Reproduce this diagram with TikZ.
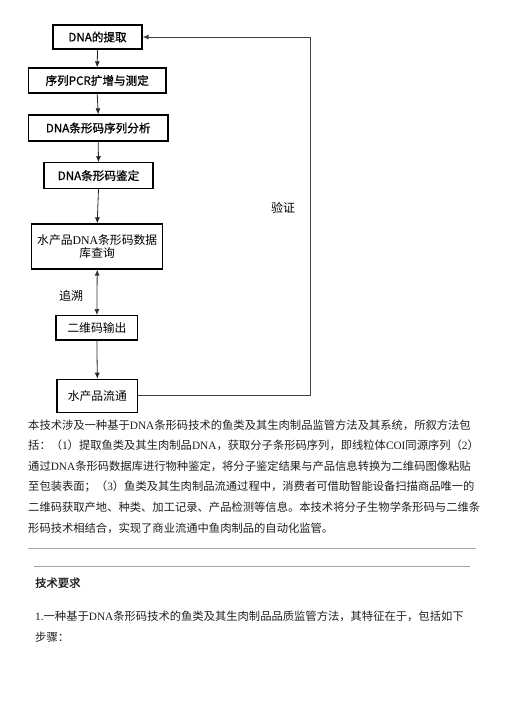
\documentclass[tikz,border=0pt]{standalone}
\usepackage{fontspec}
\setmainfont{Liberation Serif}
\newfontfamily\cjk{Noto Sans CJK SC}
\newfontfamily\cjkb[FakeBold=1.0]{Noto Sans CJK SC}
\newfontfamily\lat{Liberation Serif}
\newcommand\la[1]{{\lat #1}}
\usetikzlibrary{arrows.meta}
\begin{document}
\begin{tikzpicture}[x=1pt,y=-1pt,
  box/.style={draw=black,line width=1.2pt,inner sep=0,align=center,font=\cjkb\fontsize{11.6}{14}\selectfont},
  boxn/.style={box,font=\cjk\fontsize{11.8}{13.5}\selectfont},
  arr/.style={draw=black!85,line width=0.8pt,-{Latex[length=6pt,width=5pt]}},
  darr/.style={draw=black!80,line width=0.8pt,{Latex[length=6pt,width=5pt]}-{Latex[length=6pt,width=5pt]}},
  fb/.style={draw=black!75,line width=0.8pt,-{Latex[length=6pt,width=5pt]}},
  lbl/.style={inner sep=0,font=\cjk\fontsize{12}{14}\selectfont},
  para/.style={anchor=west,inner sep=0,font=\cjk\fontsize{11.3}{13}\selectfont,text=black!88},
  sep/.style={draw=black!35,line width=0.8pt}]
\useasboundingbox (0,0) rectangle (504,713);
% flow boxes
\node[box,minimum width=89pt,minimum height=24pt] (b1) at (97.5,37) {DNA的提取};
\node[box,minimum width=137.7pt,minimum height=25pt] (b2) at (97.2,80.5) {序列PCR扩增与测定};
\node[box,minimum width=139.7pt,minimum height=26pt] (b3) at (98.2,128) {DNA条形码序列分析};
\node[box,minimum width=109pt,minimum height=25.5pt] (b4) at (98.5,175.6) {DNA条形码鉴定};
\node[boxn,minimum width=131pt,minimum height=45pt] (b5) at (97.2,246.5) {水产品\la{DNA}条形码数据\\库查询};
\node[boxn,minimum width=81.7pt,minimum height=24.3pt] (b6) at (96.9,327.9) {二维码输出};
\node[boxn,minimum width=80.5pt,minimum height=33pt] (b7) at (97.3,395.8) {水产品流通};
% connectors
\draw[arr] (b1.south) -- (b2.north);
\draw[arr] (b2.south) -- (b3.north);
\draw[arr] (b3.south) -- (b4.north);
\draw[arr] (b4.south) -- (b5.north);
\draw[darr] (b5.south) -- (b6.north);
\draw[arr] (b6.south) -- (b7.north);
\coordinate (fbx) at (310.7,200);
\draw[fb] (b7.east) -- (b7.east -| fbx) |- (b1.east);
\node[lbl] (v) at (283,208) {验证};
\node[lbl] (t) at (71,296) {追溯};
% paragraph
\node[para] (p1) at (28,425) {本技术涉及一种基于\la{DNA}条形码技术的鱼类及其生肉制品监管方法及其系统，所叙方法包};
\node[para] (p2) at (28,445.6) {括：（\la{1}）提取鱼类及其生肉制品\la{DNA}，获取分子条形码序列，即线粒体\la{COI}同源序列（\la{2}）};
\node[para] (p3) at (28,466.2) {通过\la{DNA}条形码数据库进行物种鉴定，将分子鉴定结果与产品信息转换为二维码图像粘贴};
\node[para] (p4) at (28,486.8) {至包装表面；（\la{3}）鱼类及其生肉制品流通过程中，消费者可借助智能设备扫描商品唯一的};
\node[para] (p5) at (28,507.4) {二维码获取产地、种类、加工记录、产品检测等信息。本技术将分子生物学条形码与二维条};
\node[para] (p6) at (28,528) {形码技术相结合，实现了商业流通中鱼肉制品的自动化监管。};
\draw[sep] (28,548.3) -- (476,548.3);
\draw[sep] (34,566.7) -- (470,566.7);
\node[para,font=\cjkb\fontsize{11.3}{13}\selectfont] (h) at (35,582.7) {技术要求};
\node[para] (c1) at (35,616.7) {\la{1.}一种基于\la{DNA}条形码技术的鱼类及其生肉制品品质监管方法，其特征在于，包括如下};
\node[para] (c2) at (35,636.7) {步骤：};
\end{tikzpicture}
\end{document}
